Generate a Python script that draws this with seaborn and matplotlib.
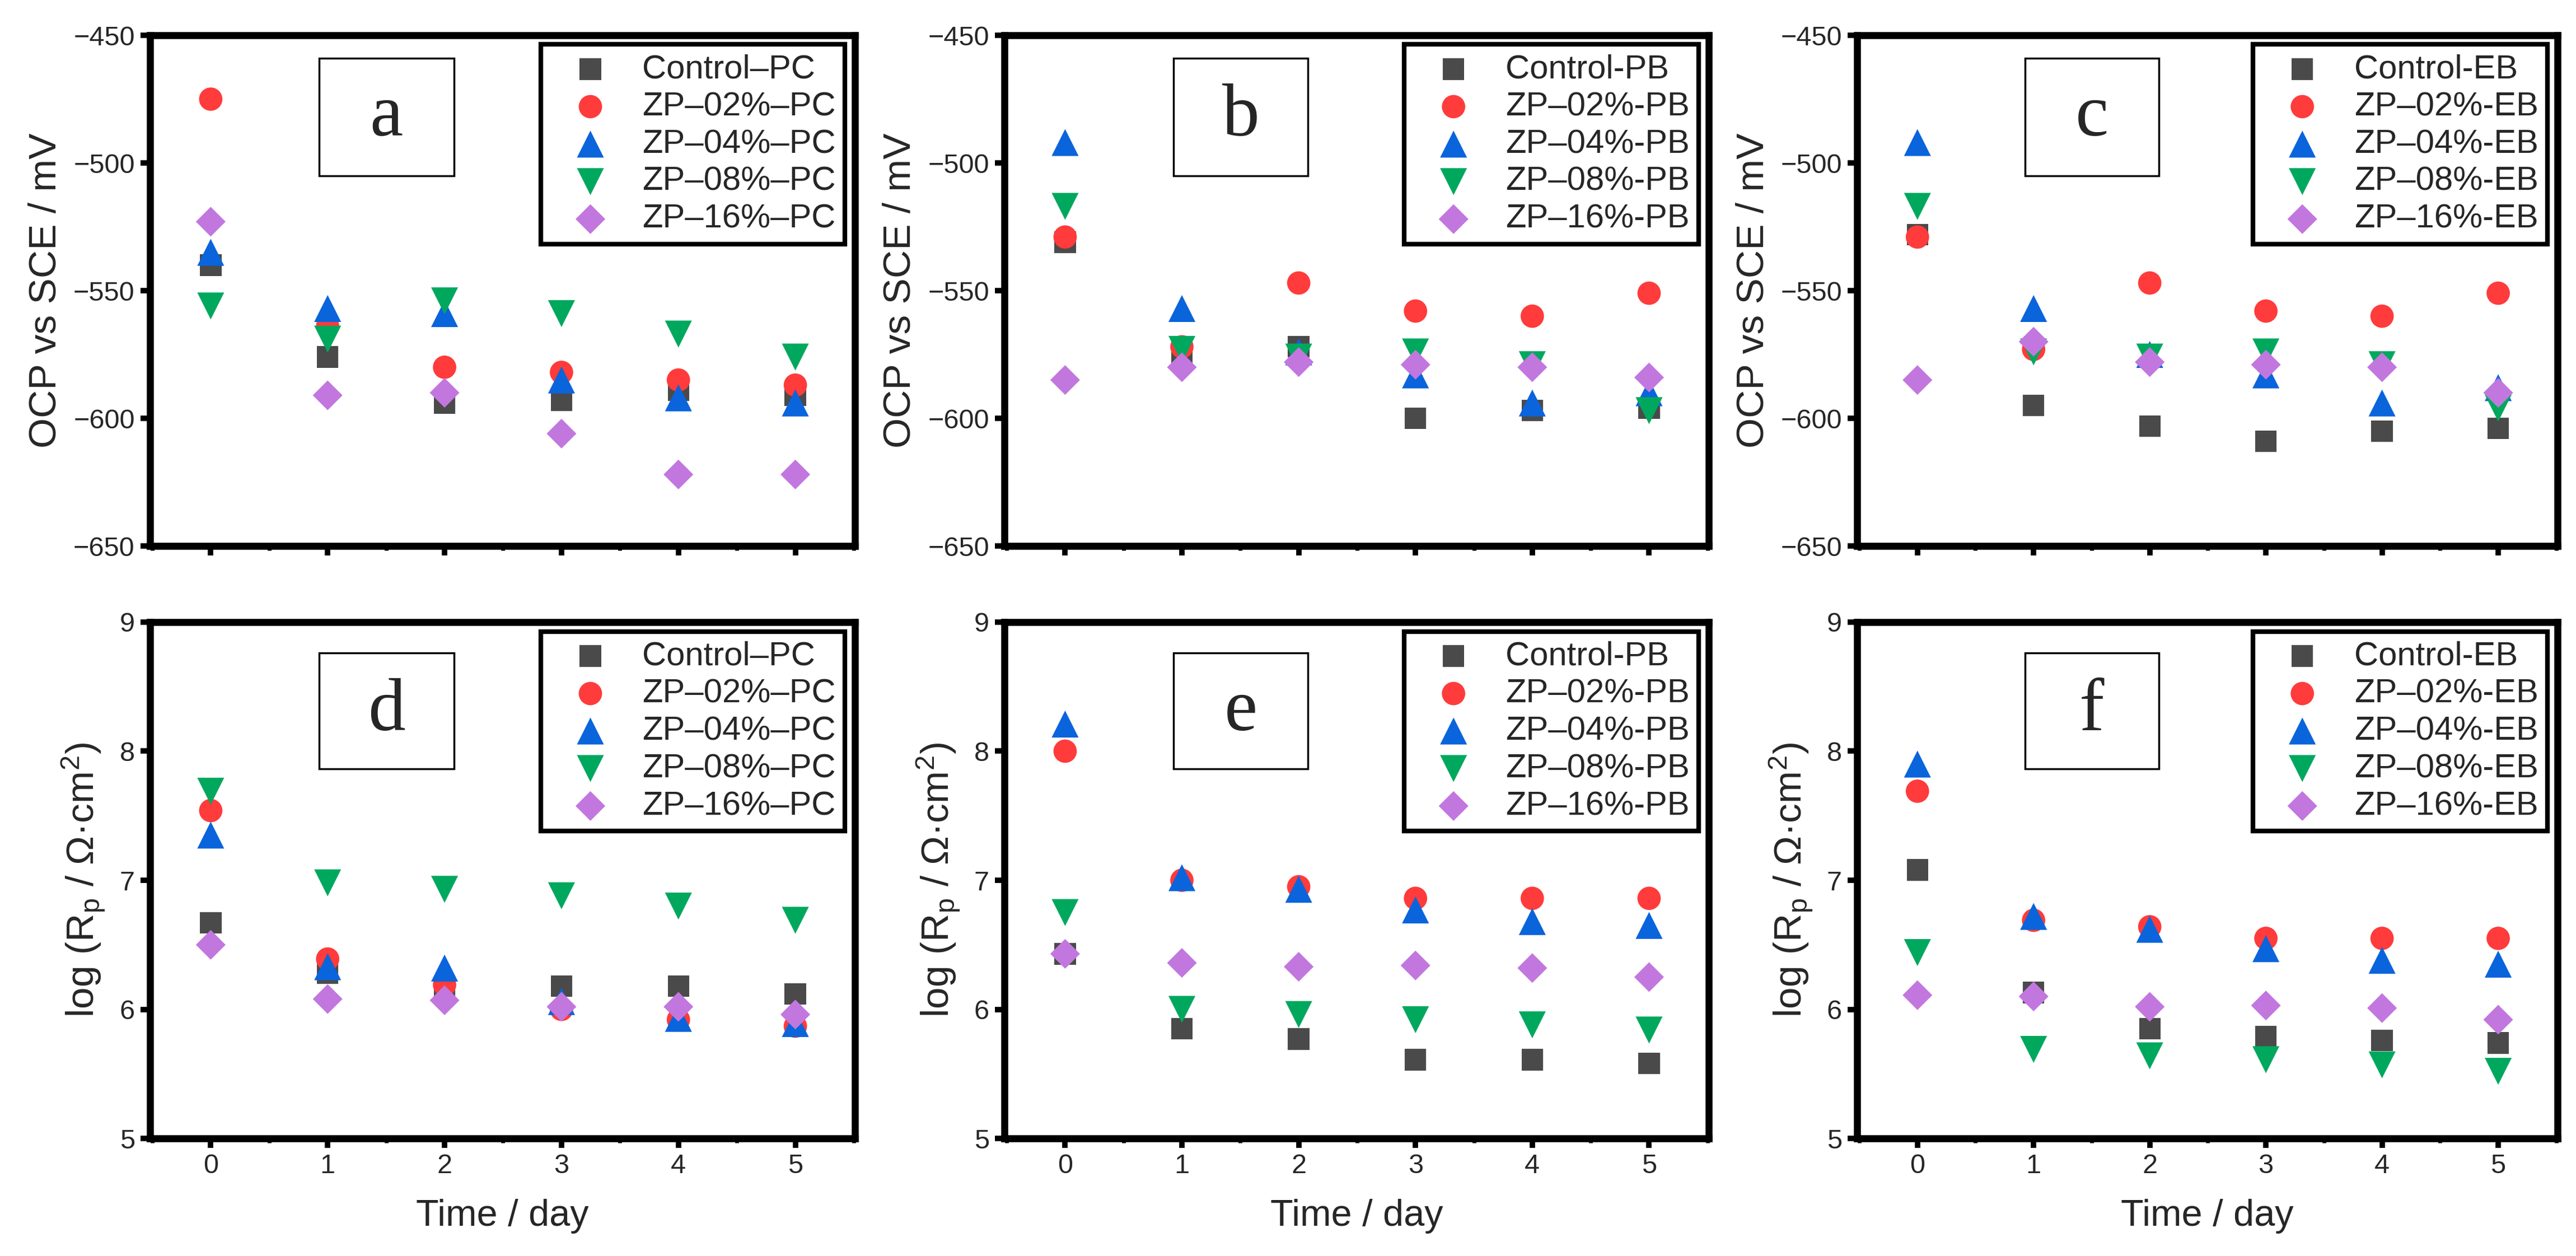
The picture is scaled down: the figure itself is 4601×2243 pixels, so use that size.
import matplotlib
matplotlib.use("Agg")
import matplotlib.pyplot as plt
from matplotlib.patches import Rectangle
from matplotlib.ticker import MultipleLocator
import seaborn as sns
import pandas as pd

# ---------------- data ----------------
days = [0, 1, 2, 3, 4, 5]

labels_pc = ["Control\u2013PC", "ZP\u201302%\u2013PC", "ZP\u201304%\u2013PC", "ZP\u201308%\u2013PC", "ZP\u201316%\u2013PC"]
labels_pb = ["Control-PB", "ZP\u201302%-PB", "ZP\u201304%-PB", "ZP\u201308%-PB", "ZP\u201316%-PB"]
labels_eb = ["Control-EB", "ZP\u201302%-EB", "ZP\u201304%-EB", "ZP\u201308%-EB", "ZP\u201316%-EB"]

# OCP vs SCE / mV
ocp_pc_control = [-540, -576, -594, -593, -589, -591]
ocp_pc_zp02 = [-475, -564, -580, -582, -585, -587]
ocp_pc_zp04 = [-535, -557, -559, -585, -592, -594]
ocp_pc_zp08 = [-556, -569, -554, -559, -567, -576]
ocp_pc_zp16 = [-523, -591, -590, -606, -622, -622]

ocp_pb_control = [-531, -576, -572, -600, -597, -596]
ocp_pb_zp02 = [-529, -572, -547, -558, -560, -551]
ocp_pb_zp04 = [-492, -557, -574, -583, -594, -590]
ocp_pb_zp08 = [-517, -573, -576, -574, -579, -597]
ocp_pb_zp16 = [-585, -580, -578, -579, -580, -584]

ocp_eb_control = [-528, -595, -603, -609, -605, -604]
ocp_eb_zp02 = [-529, -573, -547, -558, -560, -551]
ocp_eb_zp04 = [-492, -557, -575, -583, -594, -588]
ocp_eb_zp08 = [-517, -574, -576, -574, -579, -596]
ocp_eb_zp16 = [-585, -570, -578, -579, -580, -590]

# log (Rp / Ohm cm2)
rp_pc_control = [6.67, 6.28, 6.15, 6.18, 6.18, 6.12]
rp_pc_zp02 = [7.54, 6.39, 6.19, 6.00, 5.92, 5.87]
rp_pc_zp04 = [7.35, 6.33, 6.32, 6.06, 5.93, 5.89]
rp_pc_zp08 = [7.69, 6.98, 6.93, 6.88, 6.80, 6.69]
rp_pc_zp16 = [6.50, 6.08, 6.07, 6.02, 6.02, 5.96]

rp_pb_control = [6.43, 5.85, 5.77, 5.61, 5.61, 5.58]
rp_pb_zp02 = [8.00, 7.00, 6.95, 6.86, 6.86, 6.86]
rp_pb_zp04 = [8.21, 7.02, 6.93, 6.77, 6.68, 6.65]
rp_pb_zp08 = [6.75, 6.00, 5.96, 5.92, 5.88, 5.84]
rp_pb_zp16 = [6.43, 6.36, 6.33, 6.34, 6.32, 6.25]

rp_eb_control = [7.08, 6.13, 5.85, 5.79, 5.76, 5.74]
rp_eb_zp02 = [7.69, 6.69, 6.64, 6.55, 6.55, 6.55]
rp_eb_zp04 = [7.90, 6.72, 6.62, 6.47, 6.38, 6.35]
rp_eb_zp08 = [6.44, 5.69, 5.64, 5.61, 5.57, 5.52]
rp_eb_zp16 = [6.11, 6.10, 6.02, 6.03, 6.01, 5.92]

panel_letters = ["a", "b", "c", "d", "e", "f"]
ocp_ticks = [-650, -600, -550, -500, -450]
rp_ticks = [5, 6, 7, 8, 9]

panels = [
    ("a", labels_pc, [ocp_pc_control, ocp_pc_zp02, ocp_pc_zp04, ocp_pc_zp08, ocp_pc_zp16]),
    ("b", labels_pb, [ocp_pb_control, ocp_pb_zp02, ocp_pb_zp04, ocp_pb_zp08, ocp_pb_zp16]),
    ("c", labels_eb, [ocp_eb_control, ocp_eb_zp02, ocp_eb_zp04, ocp_eb_zp08, ocp_eb_zp16]),
    ("d", labels_pc, [rp_pc_control, rp_pc_zp02, rp_pc_zp04, rp_pc_zp08, rp_pc_zp16]),
    ("e", labels_pb, [rp_pb_control, rp_pb_zp02, rp_pb_zp04, rp_pb_zp08, rp_pb_zp16]),
    ("f", labels_eb, [rp_eb_control, rp_eb_zp02, rp_eb_zp04, rp_eb_zp08, rp_eb_zp16]),
]

# ---------------- style ----------------
colors = ["#4a4a4a", "#ff3b3b", "#0a64dc", "#00a85e", "#c277de"]
markers = ["s", "o", "^", "v", "D"]
msizes = [760, 900, 1200, 1200, 730]

sns.set_style("ticks")
plt.rcParams["font.family"] = ["Liberation Sans", "DejaVu Sans"]
plt.rcParams["mathtext.fontset"] = "custom"
plt.rcParams["mathtext.rm"] = "Liberation Sans"
plt.rcParams["mathtext.it"] = "Liberation Sans"

fig = plt.figure(figsize=(46.01, 22.43), dpi=100)

lefts = [0.0582, 0.3899, 0.7209]
widths = [0.2737, 0.2734, 0.2719]
bottoms = [0.5653, 0.0936]
heights = [0.4066, 0.4111]

spine_lw = 9.0

for i, (letter, labels, series) in enumerate(panels):
    row, col = divmod(i, 3)
    ax = fig.add_axes([lefts[col], bottoms[row], widths[col], heights[row]])
    df = pd.DataFrame({
        "day": days * len(series),
        "value": [v for s in series for v in s],
        "series": [lab for lab, s in zip(labels, series) for _ in s],
    })
    for k, lab in enumerate(labels):
        sns.scatterplot(data=df[df["series"] == lab], x="day", y="value",
                        marker=markers[k], s=msizes[k], color=colors[k],
                        linewidth=0, edgecolor="none", ax=ax, label=lab,
                        legend=False, zorder=3 + k)

    ax.set_xlim(-0.52, 5.51)
    ax.set_xticks(days)
    ax.xaxis.set_minor_locator(MultipleLocator(0.5))
    if row == 0:
        ax.set_ylim(-650, -450)
        ax.set_yticks(ocp_ticks)
        ax.set_ylabel("OCP vs SCE / mV", fontsize=50)
        ax.yaxis.set_label_coords(-0.148, 0.5)
        ax.set_xlabel("")
        ax.tick_params(axis="x", labelbottom=False)
        box_y0, box_y1, base_y = 0.725, 0.955, 0.804
    else:
        ax.set_ylim(5, 9)
        ax.set_yticks(rp_ticks)
        ax.set_ylabel(r"log (R$_\mathregular{p}$ / \u03a9\u00b7cm$^\mathregular{2}$)".replace("\\u03a9", "\u03a9").replace("\\u00b7", "\u00b7"), fontsize=50)
        ax.yaxis.set_label_coords(-0.094, 0.5)
        ax.set_xlabel("Time / day", fontsize=48, labelpad=26)
        box_y0, box_y1, base_y = 0.716, 0.940, 0.791
    ax.yaxis.label.set_verticalalignment("center")

    for sp in ax.spines.values():
        sp.set_linewidth(spine_lw)
        sp.set_color("black")
        sp.set_visible(True)
    ax.tick_params(axis="both", which="major", direction="out", length=12.5,
                   width=7, labelsize=35, color="black", pad=7)
    ax.tick_params(axis="x", which="minor", direction="out", length=5.5,
                   width=5, color="black")
    ax.tick_params(axis="y", which="minor", left=False)

    # panel letter box
    ax.add_patch(Rectangle((0.24, box_y0), 0.191, box_y1 - box_y0,
                           transform=ax.transAxes, fill=False,
                           edgecolor="black", linewidth=2.5, zorder=10))
    ax.text(0.3355, base_y, letter, transform=ax.transAxes, ha="center",
            va="baseline", fontsize=96, family="Liberation Serif", zorder=11)

    handles, hl = ax.get_legend_handles_labels()
    leg = ax.legend(handles, hl, loc="upper right", bbox_to_anchor=(0.986, 0.982),
                    borderaxespad=0, fontsize=43, frameon=True, fancybox=False,
                    framealpha=1, edgecolor="black", borderpad=0.28,
                    labelspacing=0.2, handlelength=2.4, handletextpad=0.35,
                    scatterpoints=1)
    leg.get_frame().set_linewidth(6)
    leg.set_zorder(20)

fig.savefig("out.png", dpi=100, facecolor="white")
